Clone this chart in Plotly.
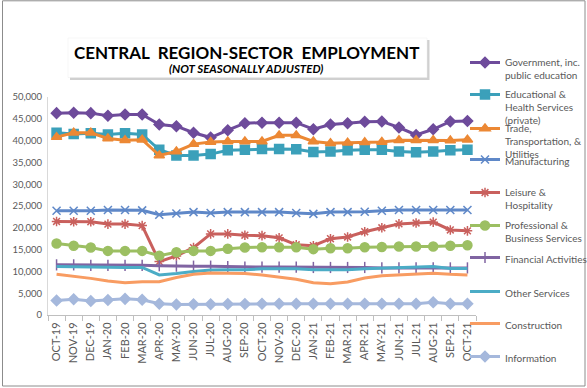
import plotly.graph_objects as go

months = ["OCT-19", "NOV-19", "DEC-19", "JAN-20", "FEB-20", "MAR-20", "APR-20", "MAY-20",
          "JUN-20", "JUL-20", "AUG-20", "SEP-20", "OCT-20", "NOV-20", "DEC-20", "JAN-21",
          "FEB-21", "MAR-21", "APR-21", "MAY-21", "JUN-21", "JUL-21", "AUG-21", "SEP-21", "OCT-21"]

gov = [46300, 46400, 46300, 45700, 46000, 46000, 43700, 43300, 41800, 40700, 42400, 44000,
       44100, 44100, 44100, 42600, 43700, 44000, 44300, 44400, 43000, 41300, 42600, 44400, 44500]
edu = [41800, 41500, 41700, 41400, 41700, 41400, 37900, 36600, 36600, 36900, 37800, 37900,
       38100, 38100, 38000, 37400, 37500, 37800, 37900, 37900, 37500, 37300, 37500, 37800, 37900]
trade = [40800, 41800, 41800, 40500, 40100, 40200, 36600, 37500, 39200, 39700, 39800, 39800,
         39800, 41200, 41200, 39800, 39400, 39500, 39600, 39700, 40100, 40100, 40100, 40000, 40200]
manu = [23900, 23900, 23900, 24100, 24100, 24000, 23000, 23300, 23600, 23400, 23600, 23600,
        23600, 23600, 23400, 23200, 23600, 23600, 23700, 23900, 24100, 24100, 24100, 24100, 24100]
leisure = [21450, 21400, 21400, 20850, 20850, 20500, 12250, 13550, 15450, 18600, 18600, 18300,
           18200, 17700, 16100, 15900, 17500, 17900, 19100, 20000, 20900, 21100, 21300, 19500, 19300]
prof = [16400, 15900, 15500, 14700, 14700, 14700, 13600, 14400, 14700, 14700, 15200, 15500,
        15550, 15550, 15550, 15100, 15300, 15300, 15550, 15600, 15700, 15700, 15700, 15900, 16000]
fin = [11500, 11500, 11400, 11400, 11400, 11400, 11300, 11200, 11200, 11200, 11100, 11000,
       11000, 11000, 11000, 10900, 10900, 10900, 10900, 10800, 10800, 10800, 10800, 10800, 10800]
other = [11100, 11100, 11100, 10950, 10900, 10900, 9200, 9500, 10000, 10300, 10350, 10350,
         10600, 10600, 10600, 10400, 10350, 10400, 10600, 10700, 10950, 11000, 11100, 10650, 10650]
constr = [9350, 8900, 8400, 7800, 7400, 7650, 7650, 8600, 9350, 9650, 9650, 9500,
          9200, 8700, 8200, 7400, 7150, 7550, 8500, 9000, 9250, 9350, 9600, 9350, 9200]
info = [3300, 3600, 3200, 3450, 3700, 3500, 2600, 2400, 2450, 2450, 2500, 2500,
        2600, 2600, 2600, 2600, 2600, 2600, 2600, 2600, 2600, 2600, 2900, 2600, 2600]

y_ticks = [0, 5000, 10000, 15000, 20000, 25000, 30000, 35000, 40000, 45000, 50000]

series = [
    ("Government, inc.<br>public education", gov, "#6E4B9B", "diamond", 8),
    ("Educational &<br>Health Services<br>(private)", edu, "#3BA0BA", "square", 9),
    ("Trade,<br>Transportation, &<br>Utilities", trade, "#EC8834", "triangle-up", 9),
    ("Manufacturing", manu, "#5F88C8", "x-thin-open", 8),
    ("Leisure &<br>Hospitality", leisure, "#C9605D", "asterisk-open", 8),
    ("Professional &<br>Business Services", prof, "#9CBF62", "circle", 9),
    ("Financial Activities", fin, "#8064A2", "line-ns-open", 8),
    ("Other Services", other, "#4BACC6", None, 0),
    ("Construction", constr, "#F89C62", None, 0),
    ("Information", info, "#A5B8DC", "diamond", 8),
]
legend_marker_y = [62, 94, 128, 159, 192, 225, 257, 291, 323, 356]

W, H = 587, 388
L, R, T, B = 48, 476, 97, 315


def px2x(px):
    return (px - L) / (R - L)


def py2y(py):
    return (B - py) / (B - T)


fig = go.Figure()
legend_layouts = {}
for i, (name, vals, color, sym, size) in enumerate(series):
    lid = "legend" if i == 0 else f"legend{i + 1}"
    mode = "lines+markers" if sym else "lines"
    marker = dict(symbol=sym, size=size, color=color,
                  line=dict(color=color, width=1.5)) if sym else None
    fig.add_trace(go.Scatter(
        x=months, y=vals, name=name, mode=mode,
        line=dict(color=color, width=3),
        marker=marker, legend=lid,
    ))
    legend_layouts[lid] = dict(
        xref="container", yref="container",
        x=465 / W, y=1 - (legend_marker_y[i] - 12.5) / H,
        xanchor="left", yanchor="top", valign="top",
        bgcolor="rgba(0,0,0,0)", borderwidth=0,
        font=dict(family="Lato", size=10, color="#595959"),
    )

shapes = [
    # outer chart border
    dict(type="rect", xref="paper", yref="paper",
         x0=px2x(2.5), x1=px2x(585), y0=py2y(386), y1=py2y(0.8),
         line=dict(color="#8C8C8C", width=1), fillcolor="rgba(0,0,0,0)", layer="below"),
    # title box shadow
    dict(type="rect", xref="paper", yref="paper",
         x0=px2x(70), x1=px2x(429.5), y0=py2y(80), y1=py2y(40),
         line=dict(width=0), fillcolor="rgba(150,150,150,0.45)", layer="below"),
    # title box
    dict(type="rect", xref="paper", yref="paper",
         x0=px2x(68), x1=px2x(427), y0=py2y(77.5), y1=py2y(38),
         line=dict(color="#EDEDED", width=0.5), fillcolor="white", layer="below"),
]

annotations = [
    dict(xref="paper", yref="paper", x=px2x(246), y=py2y(52),
         text="<b>CENTRAL  REGION-SECTOR  EMPLOYMENT</b>", showarrow=False,
         font=dict(family="Lato", size=17, color="black"),
         xanchor="center", yanchor="middle"),
    dict(xref="paper", yref="paper", x=px2x(246), y=py2y(68.5),
         text="<b><i>(NOT SEASONALLY ADJUSTED)</i></b>", showarrow=False,
         font=dict(family="Lato", size=11.5, color="black"),
         xanchor="center", yanchor="middle"),
]

fig.update_layout(
    width=W, height=H,
    margin=dict(l=L, r=W - R, t=T, b=H - B, pad=0, autoexpand=False),
    paper_bgcolor="white", plot_bgcolor="white",
    shapes=shapes, annotations=annotations,
    showlegend=True,
    **legend_layouts,
)
fig.update_xaxes(
    type="category", range=[-0.5, len(months) - 0.5],
    tickson="boundaries", ticks="outside", ticklen=5, tickcolor="#BFBFBF",
    showline=True, linecolor="#BFBFBF", linewidth=1,
    showgrid=False, tickangle=-90, automargin=False,
    ticklabelstandoff=2,
    tickfont=dict(family="Lato", size=11, color="#595959"),
)
fig.update_yaxes(
    range=[0, 50000], tickvals=y_ticks, tickformat=",",
    showline=True, linecolor="#D9D9D9", linewidth=1,
    showgrid=False, zeroline=False, ticks="", automargin=False,
    ticklabelstandoff=3,
    tickfont=dict(family="Lato", size=9.5, color="#595959"),
)

fig.write_html("out.html", config={"displayModeBar": False},
               post_script="document.body.style.margin='0';")
